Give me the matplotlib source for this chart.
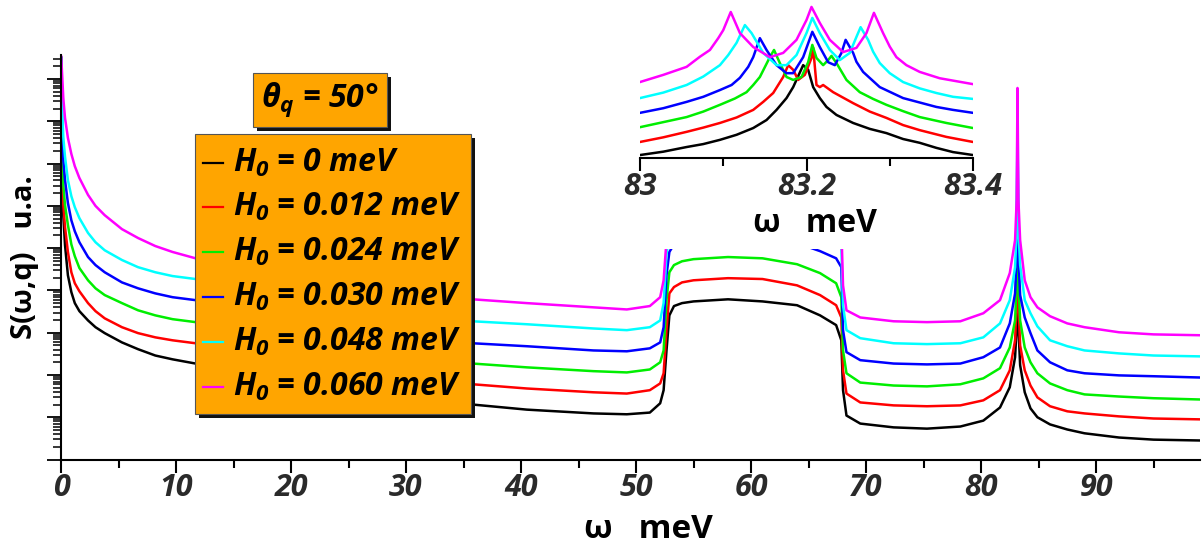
import numpy as np
import matplotlib
matplotlib.use("Agg")
import matplotlib.pyplot as plt
from matplotlib.patches import Rectangle
from matplotlib.lines import Line2D
from matplotlib.transforms import Affine2D
from matplotlib.ticker import LogLocator, NullFormatter, MultipleLocator

plt.rcParams['font.family'] = ['Open Sans', 'DejaVu Sans']
plt.rcParams['mathtext.fontset'] = 'custom'
plt.rcParams['mathtext.it'] = 'Open Sans:bold:italic'
plt.rcParams['mathtext.rm'] = 'Open Sans:bold:italic'
plt.rcParams['mathtext.bf'] = 'Open Sans:bold:italic'

# ---------------- data (main panel): omega in meV, log10 S(omega,q) in a.u.
omega = [0.02, 0.1, 0.2, 0.35, 0.6, 0.9, 1.2, 1.6, 2.35, 3.0,
         3.8, 5.3, 6.7, 8.2, 9.7, 11.7, 15, 20, 25, 30,
         35.8, 40.5, 46.3, 49.2, 51.2, 52.1, 52.4, 52.65, 52.9, 53.3,
         54, 55, 58, 61, 64, 66, 67.4, 67.85, 68.0, 68.3,
         69.5, 72.4, 75.3, 78.2, 80.2, 81.65, 82.5, 82.96, 83.1, 83.17,
         83.25, 83.4, 83.8, 84.3, 84.9, 86, 87.5, 89, 92, 95,
         99]

logS_h000 = [9.50, 6.49, 5.78, 5.07, 4.36, 3.96, 3.70, 3.51, 3.29, 3.13,
             2.99, 2.77, 2.61, 2.46, 2.37, 2.27, 2.06, 1.85, 1.66, 1.49,
             1.30, 1.18, 1.09, 1.07, 1.11, 1.33, 1.64, 2.58, 3.41, 3.63,
             3.70, 3.74, 3.79, 3.74, 3.65, 3.41, 3.18, 2.82, 1.64, 1.04,
             0.85, 0.76, 0.73, 0.78, 0.92, 1.23, 1.71, 2.42, 3.13, 6.97,
             3.13, 2.23, 1.59, 1.21, 1.00, 0.83, 0.71, 0.62, 0.52, 0.47,
             0.45]
logS_h012 = [9.50, 6.85, 6.02, 5.50, 4.91, 4.43, 4.17, 3.98, 3.70, 3.51,
             3.34, 3.13, 2.99, 2.89, 2.82, 2.75, 2.54, 2.32, 2.13, 1.97,
             1.78, 1.68, 1.59, 1.56, 1.64, 1.80, 2.04, 3.06, 3.93, 4.08,
             4.19, 4.24, 4.29, 4.27, 4.12, 3.89, 3.65, 3.36, 2.11, 1.56,
             1.35, 1.28, 1.26, 1.28, 1.40, 1.64, 2.11, 2.82, 3.70, 7.32,
             3.70, 2.70, 2.11, 1.75, 1.47, 1.26, 1.14, 1.09, 1.02, 0.97,
             0.95]
logS_h024 = [9.50, 7.32, 6.49, 6.02, 5.55, 5.09, 4.81, 4.53, 4.24, 4.05,
             3.89, 3.70, 3.53, 3.41, 3.32, 3.25, 3.03, 2.82, 2.63, 2.46,
             2.27, 2.18, 2.09, 2.06, 2.13, 2.30, 2.58, 3.77, 4.43, 4.60,
             4.69, 4.74, 4.79, 4.76, 4.62, 4.41, 4.17, 3.84, 2.58, 2.04,
             1.82, 1.75, 1.73, 1.78, 1.92, 2.16, 2.65, 3.29, 4.17, 7.68,
             4.17, 3.29, 2.65, 2.30, 2.04, 1.80, 1.64, 1.54, 1.49, 1.45,
             1.42]
logS_h030 = [9.50, 7.80, 7.09, 6.61, 6.07, 5.66, 5.40, 5.14, 4.79, 4.60,
             4.43, 4.19, 4.05, 3.93, 3.84, 3.77, 3.55, 3.32, 3.10, 2.94,
             2.75, 2.68, 2.58, 2.56, 2.63, 2.77, 3.13, 4.36, 4.91, 5.09,
             5.19, 5.24, 5.28, 5.26, 5.12, 4.93, 4.76, 4.55, 3.06, 2.54,
             2.35, 2.27, 2.25, 2.27, 2.42, 2.65, 3.22, 3.93, 4.81, 8.03,
             4.81, 3.89, 3.36, 2.99, 2.58, 2.30, 2.11, 2.04, 1.99, 1.97,
             1.94]
logS_h048 = [9.50, 8.27, 7.63, 7.16, 6.61, 6.23, 5.97, 5.71, 5.36, 5.14,
             4.95, 4.72, 4.55, 4.43, 4.34, 4.27, 4.05, 3.82, 3.63, 3.46,
             3.27, 3.20, 3.10, 3.06, 3.13, 3.29, 3.70, 4.83, 5.43, 5.62,
             5.69, 5.73, 5.78, 5.76, 5.62, 5.43, 5.26, 5.05, 3.65, 3.06,
             2.87, 2.75, 2.73, 2.75, 2.89, 3.22, 3.77, 4.55, 5.43, 8.39,
             5.43, 4.60, 3.77, 3.46, 3.15, 2.82, 2.68, 2.58, 2.51, 2.46,
             2.44]
logS_h060 = [9.53, 9.10, 8.55, 8.08, 7.61, 7.23, 6.94, 6.66, 6.26, 6.00,
             5.78, 5.45, 5.24, 5.05, 4.91, 4.76, 4.55, 4.31, 4.12, 3.96,
             3.79, 3.70, 3.60, 3.55, 3.63, 3.84, 4.24, 5.19, 5.90, 6.09,
             6.18, 6.23, 6.28, 6.26, 6.11, 5.92, 5.76, 5.55, 4.12, 3.53,
             3.36, 3.27, 3.25, 3.27, 3.46, 3.77, 4.41, 5.19, 6.14, 8.79,
             6.14, 5.19, 4.24, 3.84, 3.60, 3.39, 3.22, 3.13, 3.01, 2.96,
             2.94]

# ---------------- data (inset): zoom on the 83.2 meV peak (log10 S, own offset)
in_w_h000 = [83.0, 83.028, 83.056, 83.076, 83.096, 83.116, 83.136, 83.152, 83.164, 83.176,
             83.184, 83.196, 83.202, 83.208, 83.216, 83.224, 83.236, 83.256, 83.276, 83.296,
             83.316, 83.336, 83.356, 83.376, 83.4]
in_s_h000 = [0.07, 0.15, 0.26, 0.33, 0.43, 0.55, 0.71, 0.90, 1.14, 1.42,
             1.68, 2.20, 2.09, 1.68, 1.42, 1.21, 1.02, 0.83, 0.69, 0.59,
             0.45, 0.36, 0.24, 0.14, 0.07]
in_w_h012 = [83.0, 83.028, 83.056, 83.076, 83.096, 83.116, 83.136, 83.148, 83.16, 83.172,
             83.178, 83.184, 83.19, 83.198, 83.206, 83.208, 83.212, 83.216, 83.22, 83.232,
             83.256, 83.276, 83.296, 83.316, 83.336, 83.368, 83.4]
in_s_h012 = [0.38, 0.49, 0.62, 0.72, 0.83, 0.96, 1.14, 1.33, 1.54, 1.92,
             2.20, 2.09, 1.85, 1.97, 2.37, 2.61, 1.73, 1.68, 1.73, 1.56,
             1.30, 1.10, 0.95, 0.78, 0.66, 0.50, 0.38]
in_w_h024 = [83.0, 83.028, 83.056, 83.076, 83.096, 83.114, 83.128, 83.136, 83.144, 83.156,
             83.161, 83.168, 83.176, 83.184, 83.194, 83.202, 83.207, 83.212, 83.22, 83.226,
             83.23, 83.236, 83.248, 83.264, 83.28, 83.296, 83.316, 83.336, 83.368, 83.4]
in_s_h024 = [0.73, 0.85, 0.97, 1.10, 1.26, 1.41, 1.56, 1.73, 1.92, 2.39,
             2.56, 2.25, 1.92, 1.85, 1.92, 2.27, 2.68, 2.37, 2.20, 2.32,
             2.42, 2.25, 1.85, 1.56, 1.40, 1.26, 1.11, 0.97, 0.83, 0.71]
in_w_h030 = [83.0, 83.028, 83.056, 83.076, 83.096, 83.11, 83.12, 83.13, 83.136, 83.144,
             83.152, 83.164, 83.176, 83.184, 83.196, 83.207, 83.216, 83.226, 83.234, 83.242,
             83.247, 83.256, 83.26, 83.268, 83.288, 83.316, 83.356, 83.376, 83.4]
in_s_h030 = [1.07, 1.18, 1.33, 1.45, 1.61, 1.73, 1.90, 2.16, 2.39, 2.84,
             2.56, 2.20, 2.01, 2.01, 2.39, 2.99, 2.63, 2.27, 2.20, 2.49,
             2.80, 2.49, 2.28, 2.04, 1.68, 1.42, 1.21, 1.14, 1.07]
in_w_h048 = [83.0, 83.028, 83.056, 83.076, 83.096, 83.106, 83.116, 83.126, 83.134, 83.148,
             83.164, 83.176, 83.188, 83.2, 83.207, 83.216, 83.228, 83.24, 83.252, 83.26,
             83.265, 83.274, 83.28, 83.288, 83.3, 83.316, 83.336, 83.356, 83.376, 83.4]
in_s_h048 = [1.42, 1.55, 1.73, 1.93, 2.20, 2.44, 2.73, 3.15, 2.96, 2.49,
             2.20, 2.20, 2.44, 2.96, 3.32, 2.96, 2.56, 2.32, 2.49, 2.87,
             3.10, 2.80, 2.52, 2.25, 2.01, 1.80, 1.65, 1.54, 1.45, 1.40]
in_w_h060 = [83.0, 83.028, 83.056, 83.072, 83.084, 83.094, 83.1, 83.109, 83.12, 83.136,
             83.156, 83.172, 83.188, 83.2, 83.206, 83.216, 83.228, 83.244, 83.26, 83.272,
             83.281, 83.292, 83.3, 83.308, 83.32, 83.336, 83.36, 83.4]
in_s_h060 = [1.80, 1.97, 2.16, 2.40, 2.56, 2.84, 3.03, 3.46, 2.96, 2.63,
             2.39, 2.49, 2.80, 3.27, 3.58, 3.20, 2.80, 2.51, 2.61, 2.96,
             3.44, 2.96, 2.64, 2.39, 2.20, 2.04, 1.89, 1.75]

h0_values = ["0", "0.012", "0.024", "0.030", "0.048", "0.060"]
colors = ["#000000", "#ff0000", "#00ee00", "#0000ff", "#00ffff", "#ff00ff"]
theta_q = "50"

main_series = [logS_h000, logS_h012, logS_h024, logS_h030, logS_h048, logS_h060]
inset_series = [(in_w_h000, in_s_h000), (in_w_h012, in_s_h012), (in_w_h024, in_s_h024),
                (in_w_h030, in_s_h030), (in_w_h048, in_s_h048), (in_w_h060, in_s_h060)]

# ---------------- figure
W, H = 1203, 549
fig = plt.figure(figsize=(W / 100, H / 100), dpi=100)
pix = Affine2D().scale(1.0 / W, -1.0 / H).translate(0, 1) + fig.transFigure


def frect(x0, y0, x1, y1):
    return [x0 / W, 1 - y1 / H, (x1 - x0) / W, (y1 - y0) / H]


TICK_COLOR = "#2a2a2a"
LW = 1.8

ax = fig.add_axes(frect(61, 55, 1200, 459.5))
ax.set_zorder(0)
for s, c in zip(main_series, colors):
    ax.plot(omega, 10 ** np.asarray(s), color=c, lw=LW, solid_joinstyle="round")
ax.set_yscale("log")
ax.set_ylim(1, 10 ** 9.57)
ax.set_xlim(0, 99.04)
ax.yaxis.set_major_locator(LogLocator(base=10, numticks=30))
ax.yaxis.set_minor_locator(LogLocator(base=10, subs=np.arange(2, 10), numticks=30))
ax.yaxis.set_major_formatter(NullFormatter())
ax.yaxis.set_minor_formatter(NullFormatter())
xt = [0, 10, 20, 30, 40, 50, 60, 70, 80, 90]
ax.set_xticks(xt, [str(v) for v in xt], fontsize=22, fontstyle="italic",
              fontweight="bold", color=TICK_COLOR)
ax.xaxis.set_minor_locator(MultipleLocator(5))
ax.tick_params(axis="x", which="major", length=9, width=1.5, pad=1)
ax.tick_params(axis="x", which="minor", length=5.5, width=1.5)
ax.tick_params(axis="y", which="major", length=10, width=1.3)
ax.tick_params(axis="y", which="minor", length=5.5, width=1.1)
for sp in ["top", "right"]:
    ax.spines[sp].set_visible(False)
for sp in ["bottom", "left"]:
    ax.spines[sp].set_linewidth(1.5)

fig.text(648, 529, "ω   meV", transform=pix, ha="center", va="center",
         fontsize=24, fontweight="bold", color="#000000")
fig.text(25, 257, "S(ω,q)   u.a.", transform=pix, ha="center", va="center",
         rotation=90, fontsize=21, fontweight="bold", color="#000000")

# white background of the inset layer
fig.patches.append(Rectangle((598, 0), 405, 249, transform=pix, facecolor="white",
                             edgecolor="none", zorder=3))

# ---------------- inset
axi = fig.add_axes(frect(640, 0, 973, 158))
axi.set_zorder(5)
axi.patch.set_visible(False)
for (w, s), c in zip(inset_series, colors):
    axi.plot(w, 10 ** np.asarray(s), color=c, lw=LW, solid_joinstyle="round")
axi.set_yscale("log")
axi.set_ylim(1, 10 ** (158 / 42.2))
axi.set_xlim(83.0, 83.4)
for sp in ["top", "right", "left"]:
    axi.spines[sp].set_visible(False)
axi.spines["bottom"].set_linewidth(1.5)
axi.yaxis.set_visible(False)
it = [83.0, 83.2, 83.4]
axi.set_xticks(it, ["83", "83.2", "83.4"], fontsize=22, fontstyle="italic",
               fontweight="bold", color=TICK_COLOR)
axi.set_xticks([83.1, 83.3], minor=True)
axi.tick_params(axis="x", which="major", length=9, width=1.5, pad=1)
axi.tick_params(axis="x", which="minor", length=6, width=1.5)
fig.text(815, 224, "ω   meV", transform=pix, ha="center", va="center",
         fontsize=23, fontweight="bold", color="#000000", zorder=6)

# ---------------- theta box
fig.patches.append(Rectangle((257, 77), 134, 54, transform=pix, facecolor="#111111",
                             edgecolor="none", zorder=10))
fig.patches.append(Rectangle((253, 73), 134, 54, transform=pix, facecolor="#ffa500",
                             edgecolor="#555555", lw=0.8, zorder=11))
fig.text(320, 100, r"$\theta_q$ = " + theta_q + "°", transform=pix, ha="center",
         va="center", fontsize=23, fontweight="bold", fontstyle="italic", zorder=12)

# ---------------- legend box
fig.patches.append(Rectangle((199, 138), 276, 280, transform=pix, facecolor="#111111",
                             edgecolor="none", zorder=10))
fig.patches.append(Rectangle((195, 134), 276, 280, transform=pix, facecolor="#ffa500",
                             edgecolor="#555555", lw=0.8, zorder=11))
row_y = [163, 207, 252, 297, 342, 387]
for yv, c, hv in zip(row_y, colors, h0_values):
    fig.lines.append(Line2D([203, 223], [yv, yv], transform=pix, color=c, lw=1.6, zorder=12))
    fig.text(233, yv, r"$H_0$ = " + hv + " meV", transform=pix, ha="left", va="center",
             fontsize=23, fontweight="bold", fontstyle="italic", zorder=12)

fig.savefig("out.png", dpi=100)
